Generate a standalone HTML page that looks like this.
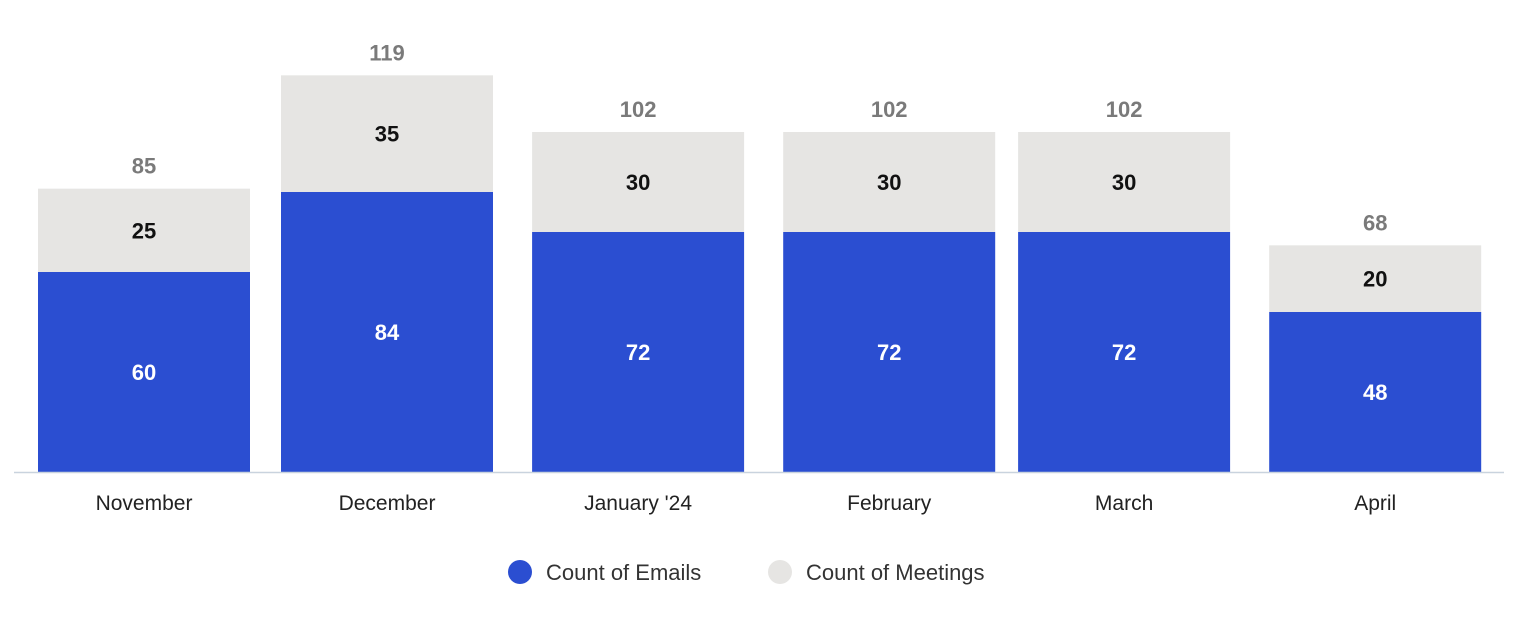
<!DOCTYPE html>
<html><head><meta charset="utf-8"><style>
body{margin:0;background:#fff;font-family:"Liberation Sans",sans-serif;}
svg text{font-family:"Liberation Sans",sans-serif;}
</style></head><body>
<svg id="chart" width="1520" height="628" xmlns="http://www.w3.org/2000/svg"></svg>
<script>
const categories = ["November","December","January '24","February","March","April"];
const monthStarts = ["2023-11-01","2023-12-01","2024-01-01","2024-02-01","2024-03-01","2024-04-01"];
const emails = [60,84,72,72,72,48];
const meetings = [25,35,30,30,30,20];

const svg = document.getElementById('chart');
const NS = 'http://www.w3.org/2000/svg';
const baseY = 472, pxPerUnit = 200/60, pxPerDay = 8.1, x0 = 144, barW = 212;
const t0 = Date.parse("2023-11-01T00:00:00Z");
function x(d){ return x0 + (Date.parse(d+"T00:00:00Z") - t0)/86400000*pxPerDay; }
function y(v){ return baseY - v*pxPerUnit; }
function mk(tag, attrs, name){
  const el = document.createElementNS(NS, tag);
  for (const k in attrs) el.setAttribute(k, attrs[k]);
  
  
  svg.appendChild(el); return el;
}
function txt(s, attrs, name){ const t = mk('text', attrs, name); t.textContent = s; return t; }

categories.forEach((c,i)=>{
  const cx = x(monthStarts[i]);
  const e = emails[i], m = meetings[i], tot = e+m;
  mk('rect',{x:cx-barW/2,y:y(e),width:barW,height:e*pxPerUnit,fill:'#2B4ED1'},'bar-emails');
  mk('rect',{x:cx-barW/2,y:y(tot),width:barW,height:m*pxPerUnit,fill:'#E6E5E3'},'bar-meetings');
  txt(String(e),{x:cx,y:(y(e)+baseY)/2+8,'text-anchor':'middle','font-size':22,'font-weight':'bold',fill:'#fff'},'emails-value-label');
  txt(String(m),{x:cx,y:(y(tot)+y(e))/2+8,'text-anchor':'middle','font-size':22,'font-weight':'bold',fill:'#111'},'meetings-value-label');
  txt(String(tot),{x:cx,y:y(tot)-15,'text-anchor':'middle','font-size':22,'font-weight':'bold',fill:'#7a7a7a'},'total-label');
  txt(c,{x:cx,y:510,'text-anchor':'middle','font-size':21,fill:'#222'},'x-axis-label');
});
mk('line',{x1:14,x2:1504,y1:baseY+0.5,y2:baseY+0.5,stroke:'#c9d3de','stroke-width':1.5},'x-axis-line');

mk('circle',{cx:520,cy:572,r:12,fill:'#2B4ED1'},'legend-emails-swatch');
txt('Count of Emails',{x:546,y:580,'font-size':22,fill:'#333'},'legend-emails-label');
mk('circle',{cx:780,cy:572,r:12,fill:'#E6E5E3'},'legend-meetings-swatch');
txt('Count of Meetings',{x:806,y:580,'font-size':22,fill:'#333'},'legend-meetings-label');
</script>
</body></html>
